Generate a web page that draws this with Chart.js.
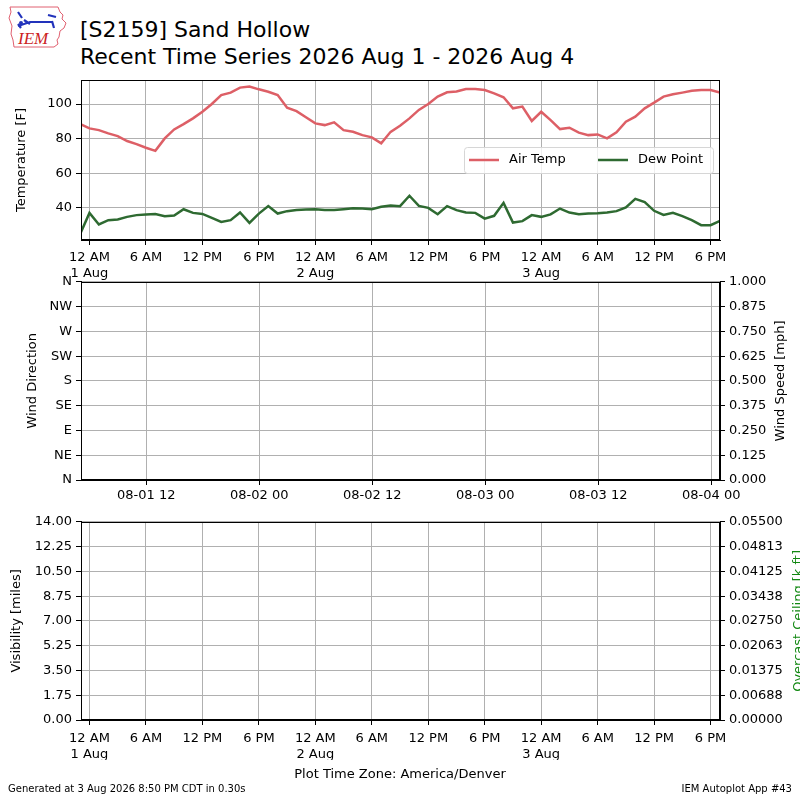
<!DOCTYPE html>
<html>
<head>
<meta charset="utf-8">
<script src="https://cdn.jsdelivr.net/npm/chart.js@4.4.1/dist/chart.umd.min.js"></script>
<style>
  html, body { margin: 0; padding: 0; background: #fff; overflow: hidden; }
  body { width: 800px; height: 800px; position: relative; font-family: "DejaVu Sans", sans-serif; }
  canvas { position: absolute; left: 0; }
  .txt { position: absolute; white-space: nowrap; color: #000; }
</style>
</head>
<body>

<svg style="position:absolute;left:8px;top:4px" width="62" height="48" viewBox="0 0 62 48">
  <path d="M2 3 L50 3 L52 8 L55 11 L54 15 L58 19 L56 24 L52 27 L51 33 L49 36 L50 40 L46 43 L6 43 L5 36 L3 30 L4 22 L1 14 L3 8 Z"
        fill="none" stroke="#e06070" stroke-width="1"/>
  <path d="M10 8 L14 14 M10 22 L22 18 L44 18 M16 16 L22 20 M40 11 L48 13 M44 17 L46 24 M10 20 L13 24" stroke="#2233bb" stroke-width="2.2" fill="none"/>
  <circle cx="13" cy="19" r="2" fill="#2233bb"/>
  <text x="10" y="40" font-family="Liberation Serif, serif" font-style="italic" font-size="17" fill="#cc2222">IEM</text>
</svg>

<div class="txt" style="left:80px;top:17px;font-size:22px;">[S2159] Sand Hollow</div>
<div class="txt" style="left:80px;top:44px;font-size:22px;">Recent Time Series 2026 Aug 1 - 2026 Aug 4</div>

<canvas id="temp" width="800" height="230" style="top:60px"></canvas>
<canvas id="wind" width="800" height="240" style="top:270px"></canvas>
<canvas id="vis" width="800" height="250" style="top:510px"></canvas>

<div class="txt" style="left:0;width:800px;text-align:center;top:766px;font-size:13px;">Plot Time Zone: America/Denver</div>
<div class="txt" style="left:8px;top:783px;font-size:10px;">Generated at 3 Aug 2026 8:50 PM CDT in 0.30s</div>
<div class="txt" style="right:8px;top:783px;font-size:10px;">IEM Autoplot App #43</div>

<script>
// hours relative to 2026-08-01 00:00 America/Denver, one obs per hour
const firstHour = -1;
const airTemp = [
  88.4, 85.9, 84.9, 83.0, 81.4, 78.6, 76.8, 74.7, 72.9, 80.1, 85.3, 88.4,
  91.7, 95.5, 100.0, 105.2, 106.6, 109.5, 110.1, 108.5, 107.1, 105.2, 97.9, 95.9,
  92.3, 88.8, 87.8, 89.4, 84.9, 83.9, 82.0, 80.7, 77.2, 83.9, 87.4, 91.7,
  96.6, 100.0, 104.3, 106.8, 107.2, 108.7, 108.7, 108.1, 106.2, 103.9, 97.5, 98.5,
  90.2, 95.5, 90.7, 85.5, 86.3, 83.4, 82.0, 82.4, 80.1, 83.6, 89.8, 92.7,
  97.5, 100.8, 104.3, 105.6, 106.6, 107.7, 108.1, 108.1, 106.6
];
const dewPoint = [
  24.6, 37.0, 30.3, 32.8, 33.2, 34.7, 35.7, 36.1, 36.4, 35.1, 35.5, 39.1,
  37.0, 36.4, 34.1, 31.8, 32.8, 37.2, 31.2, 36.6, 40.9, 36.6, 38.0, 38.6,
  39.0, 39.1, 38.7, 38.6, 39.1, 39.7, 39.5, 39.1, 40.5, 41.3, 40.9, 46.9,
  41.0, 39.9, 36.2, 40.9, 38.6, 37.2, 37.0, 33.7, 35.3, 42.8, 31.4, 32.2,
  35.7, 34.7, 36.1, 39.5, 37.2, 36.2, 36.6, 36.8, 37.2, 38.0, 40.1, 45.1,
  43.2, 38.2, 35.8, 37.0, 35.1, 32.8, 29.9, 29.9, 32.4
];
const hours = airTemp.map((_, i) => firstHour + i);

const tempTicks = [40, 60, 80, 100];
const timeTickHours = [0, 6, 12, 18, 24, 30, 36, 42, 48, 54, 60, 66];
const timeTickLabels = [
  ['12 AM', '1 Aug'], '6 AM', '12 PM', '6 PM',
  ['12 AM', '2 Aug'], '6 AM', '12 PM', '6 PM',
  ['12 AM', '3 Aug'], '6 AM', '12 PM', '6 PM'
];
const windTickHours = [12, 24, 36, 48, 60, 72];
const windTickLabels = ['08-01 12', '08-02 00', '08-02 12', '08-03 00', '08-03 12', '08-04 00'];
const dirTicks = [0, 45, 90, 135, 180, 225, 270, 315, 360];
const dirLabels = ['N', 'NE', 'E', 'SE', 'S', 'SW', 'W', 'NW', 'N'];
const speedTicks = [0, 0.125, 0.25, 0.375, 0.5, 0.625, 0.75, 0.875, 1.0];
const visTicks = [0, 1.75, 3.5, 5.25, 7, 8.75, 10.5, 12.25, 14];
const ceilTicks = [0, 0.006875, 0.01375, 0.020625, 0.0275, 0.034375, 0.04125, 0.048125, 0.055];

const font = { family: 'DejaVu Sans', size: 13, lineHeight: 1.2 };
const gridColor = '#b0b0b0';

function fixTicks(list) {
  return function(scale) { scale.ticks = list.map(v => ({ value: v })); };
}
function fixWidth(w) { return function(scale) { scale.width = w; }; }
function fixHeight(h) { return function(scale) { scale.height = h; }; }

function timeAxis(min, max, ticks, labels, height, pad) {
  return {
    type: 'linear', min: min, max: max,
    afterBuildTicks: fixTicks(ticks),
    afterFit: fixHeight(height),
    ticks: {
      font: font, color: '#000', maxRotation: 0, autoSkip: false, padding: pad,
      callback: v => labels[ticks.indexOf(v)]
    },
    grid: { color: gridColor, tickColor: '#000', tickLength: 5 },
    border: { color: '#000' }
  };
}

function valueAxis(opts) {
  return {
    type: 'linear', position: opts.position, min: opts.min, max: opts.max,
    afterBuildTicks: fixTicks(opts.ticks),
    afterFit: fixWidth(opts.width),
    ticks: { font: font, color: '#000', padding: 4, callback: opts.fmt },
    grid: { color: gridColor, tickColor: '#000', tickLength: 5, drawOnChartArea: opts.grid },
    border: { color: '#000' },
    title: {
      display: !!opts.title, text: opts.title, font: font, color: '#000',
      padding: { top: opts.titlePad || 0, bottom: 0 }
    }
  };
}

// black frame around each plot area
const frame = {
  id: 'frame',
  afterDraw(chart) {
    const a = chart.chartArea, ctx = chart.ctx;
    ctx.save();
    ctx.strokeStyle = '#000';
    ctx.lineWidth = 1;
    ctx.strokeRect(Math.round(a.left) + 0.5, Math.round(a.top) + 0.5,
      Math.round(a.right - a.left) - 1, Math.round(a.bottom - a.top) - 1);
    ctx.restore();
  }
};

// right-hand axis title, read bottom to top like the left one
function rightTitle(text, color, cx) {
  return {
    id: 'rightTitle',
    afterDraw(chart) {
      const a = chart.chartArea, ctx = chart.ctx;
      ctx.save();
      ctx.translate(cx, (a.top + a.bottom) / 2);
      ctx.rotate(-Math.PI / 2);
      ctx.fillStyle = color;
      ctx.font = '13px "DejaVu Sans"';
      ctx.textAlign = 'center';
      ctx.textBaseline = 'middle';
      ctx.fillText(text, 0, 0);
      ctx.restore();
    }
  };
}

// legend drawn inside the temperature plot
const insideLegend = {
  id: 'insideLegend',
  afterDraw(chart) {
    const a = chart.chartArea, ctx = chart.ctx;
    const x = a.right - 256, y = a.top + 67, w = 249, h = 26;
    ctx.save();
    ctx.beginPath();
    ctx.roundRect(x + 0.5, y + 0.5, w, h, 3);
    ctx.fillStyle = 'rgba(255,255,255,0.8)';
    ctx.fill();
    ctx.strokeStyle = '#d6d6d6';
    ctx.lineWidth = 1;
    ctx.stroke();
    const offsets = [5, 134];
    chart.data.datasets.forEach((ds, i) => {
      const lx = x + offsets[i];
      ctx.beginPath();
      ctx.moveTo(lx, y + 13);
      ctx.lineTo(lx + 30, y + 13);
      ctx.strokeStyle = ds.borderColor;
      ctx.lineWidth = ds.borderWidth;
      ctx.stroke();
      ctx.fillStyle = '#000';
      ctx.font = '13px "DejaVu Sans"';
      ctx.textBaseline = 'middle';
      ctx.fillText(ds.label, lx + 40, y + 13);
    });
    ctx.restore();
  }
};

const base = {
  responsive: false,
  animation: false,
  plugins: { legend: { display: false }, tooltip: { enabled: false } }
};

new Chart(document.getElementById('temp'), {
  type: 'line',
  data: {
    datasets: [
      { label: 'Air Temp', data: hours.map((h, i) => ({ x: h, y: airTemp[i] })),
        borderColor: '#dd5f66', borderWidth: 2.5, pointRadius: 0, tension: 0 },
      { label: 'Dew Point', data: hours.map((h, i) => ({ x: h, y: dewPoint[i] })),
        borderColor: '#2e6a31', borderWidth: 2.5, pointRadius: 0, tension: 0 }
    ]
  },
  options: Object.assign({}, base, {
    layout: { padding: { top: 20, right: 80, left: 0, bottom: 0 } },
    scales: {
      x: timeAxis(-0.9, 67, timeTickHours, timeTickLabels, 50, 5),
      y: valueAxis({ position: 'left', min: 21.3, max: 113.9, ticks: tempTicks, width: 81,
        grid: true, title: 'Temperature [F]', titlePad: 14, fmt: v => String(v) })
    }
  }),
  plugins: [frame, insideLegend]
});

new Chart(document.getElementById('wind'), {
  type: 'line',
  data: { datasets: [] },
  options: Object.assign({}, base, {
    layout: { padding: { top: 10, right: 0, left: 0, bottom: 0 } },
    scales: {
      x: timeAxis(5.07, 72.93, windTickHours, windTickLabels, 30, 3),
      y: valueAxis({ position: 'left', min: 0, max: 360, ticks: dirTicks, width: 81,
        grid: true, title: 'Wind Direction', titlePad: 25, fmt: v => dirLabels[dirTicks.indexOf(v)] }),
      y2: valueAxis({ position: 'right', min: 0, max: 1, ticks: speedTicks, width: 80,
        grid: false, fmt: v => v.toFixed(3) })
    }
  }),
  plugins: [frame, rightTitle('Wind Speed [mph]', '#000', 781)]
});

new Chart(document.getElementById('vis'), {
  type: 'line',
  data: { datasets: [] },
  options: Object.assign({}, base, {
    layout: { padding: { top: 10, right: 0, left: 0, bottom: 0 } },
    scales: {
      x: timeAxis(-0.9, 67, timeTickHours, timeTickLabels, 40, 6),
      y: valueAxis({ position: 'left', min: 0, max: 14, ticks: visTicks, width: 81,
        grid: true, title: 'Visibility [miles]', titlePad: 9, fmt: v => v.toFixed(2) }),
      y2: valueAxis({ position: 'right', min: 0, max: 0.055, ticks: ceilTicks, width: 80,
        grid: false, fmt: v => v.toFixed(5) })
    }
  }),
  plugins: [frame, rightTitle('Overcast Ceiling [k ft]', '#118811', 799)]
});
</script>
</body>
</html>
